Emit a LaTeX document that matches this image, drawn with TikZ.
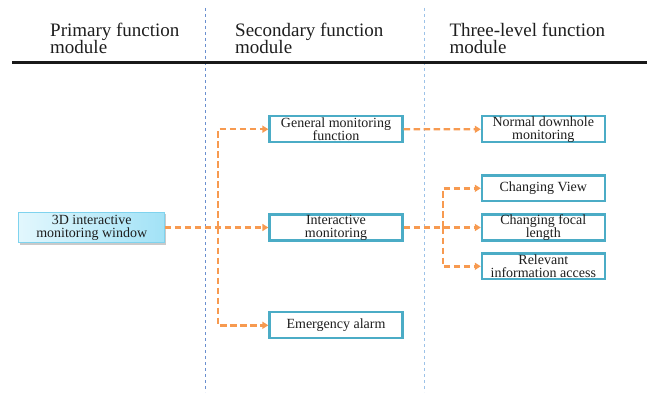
\documentclass[tikz,border=0pt]{standalone}
\usepackage{fontspec}
\setmainfont{Liberation Serif}
\usetikzlibrary{arrows.meta,shadows}

\definecolor{boxedge}{HTML}{4BACC6}
\definecolor{flowline}{HTML}{F79A50}
\definecolor{guideA}{HTML}{6A8FCF}
\definecolor{guideB}{HTML}{9CC2E8}
\definecolor{winleft}{HTML}{E2F7FD}
\definecolor{winright}{HTML}{A2E2F6}
\definecolor{winedge}{HTML}{7FD3EE}
\definecolor{inktext}{HTML}{1E1E1E}

\tikzset{
  x=1pt, y=-1pt,
  header/.style={anchor=north west, inner sep=0pt, align=left, text=inktext,
    font=\fontsize{19}{17.8}\selectfont},
  fbox/.style={draw=boxedge, line width=2.3pt, fill=white, inner sep=0pt,
    align=center, text=inktext, font=\fontsize{14}{13.2}\selectfont},
  secbox/.style={fbox, minimum width=133pt, minimum height=26pt},
  thirdbox/.style={fbox, minimum width=122.7pt, minimum height=25.6pt},
  winbox/.style={draw=winedge, line width=0.8pt, left color=winleft, right color=winright,
    inner sep=0pt, align=center, text=inktext, minimum width=145.7pt, minimum height=30.6pt,
    font=\fontsize{14}{13.2}\selectfont,
    drop shadow={shadow xshift=1.5pt, shadow yshift=-1.8pt, fill=black!35, opacity=0.6}},
  flow/.style={draw=flowline, line width=2.4pt, dash pattern=on 6.5pt off 3.5pt,
    -{Triangle[length=6pt,width=7pt]}},
  guide/.style={line width=1pt, dash pattern=on 3pt off 3pt},
}

\begin{document}
\begin{tikzpicture}
  \useasboundingbox (0,0) rectangle (647,396);

  % column separators
  \draw[guide, draw=guideA] (205,8) -- (205,392);
  \draw[guide, draw=guideB] (424,8) -- (424,392);

  % column headings and rule
  \node[header] (h1) at (50,22.5) {Primary function\\module};
  \node[header] (h2) at (235,22.5) {Secondary function\\module};
  \node[header] (h3) at (449.3,22.5) {Three-level function\\module};
  \draw[line width=2.6pt, draw=black!90] (12,62.7) -- (647,62.7);

  % branch points
  \coordinate (ja) at (218,227.5);
  \coordinate (jb) at (442.7,227.5);

  % boxes
  \node[winbox] (win) at (91.7,227.5) {3D interactive\\monitoring window};

  \node[secbox] (gen) at (336,129.2) {General monitoring\\function};
  \node[secbox] (inter) at (336,227.5) {Interactive\\monitoring};
  \node[secbox] (alarm) at (336,325.3) {Emergency alarm};

  \node[thirdbox] (normal) at (543.3,129.3) {Normal downhole\\monitoring};
  \node[thirdbox] (view) at (543.3,188.3) {Changing View};
  \node[thirdbox] (focal) at (543.3,227.5) {Changing focal\\length};
  \node[thirdbox] (rel) at (543.3,266.3) {Relevant\\information access};

  % connectors
  \draw[flow] (win.east) -- (inter.west);
  \draw[flow] (ja) |- (gen.west);
  \draw[flow] (ja) |- (alarm.west);
  \draw[flow] (gen.east) -- (normal.west);
  \draw[flow] (inter.east) -- (focal.west);
  \draw[flow] (jb) |- (view.west);
  \draw[flow] (jb) |- (rel.west);
\end{tikzpicture}
\end{document}
